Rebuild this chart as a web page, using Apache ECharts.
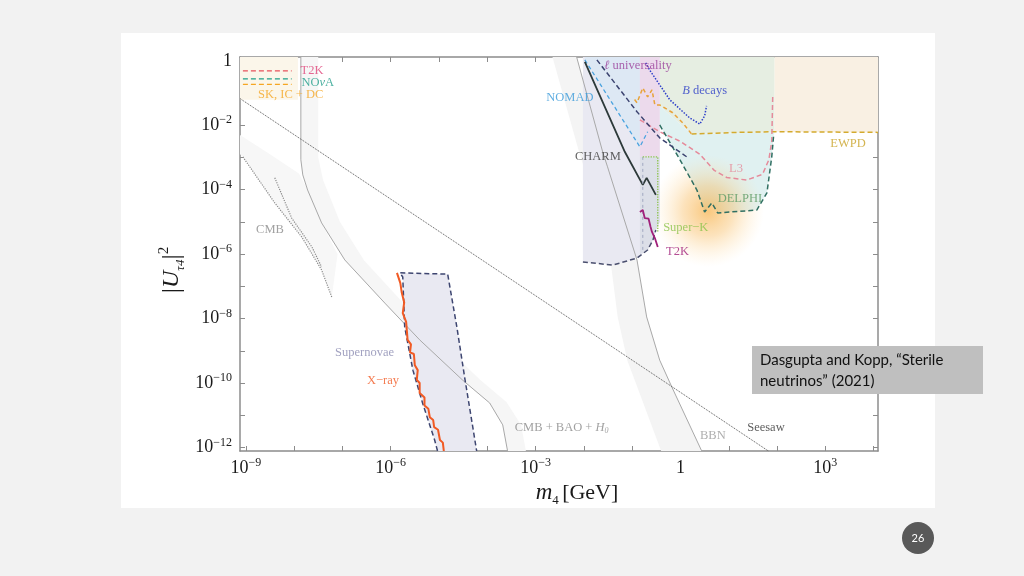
<!DOCTYPE html>
<html><head><meta charset="utf-8">
<script src="https://cdn.jsdelivr.net/npm/echarts@6/dist/echarts.min.js"></script>
<style>html,body{margin:0;padding:0;background:#f2f2f2}#c{width:1024px;height:576px}</style>
</head><body><div id="c"></div>
<script>
// ---------- axis ranges (log10 units) ----------
const xMin = -9.12, xMax = 4.09, yMin = -12.11, yMax = 0.12;
const xTickVals = [-9,-8,-7,-6,-5,-4,-3,-2,-1,0,1,2,3,4];
const xLabelVals = [-9,-6,-3,0,3];
const yTickVals = [-12,-11,-10,-9,-8,-7,-6,-5,-4,-3,-2,-1,0];
const yLabelVals = [-12,-10,-8,-6,-4,-2,0];

// ---------- shaded regions (log10 m4, log10 |U|^2) ----------
const skRegion = [[-9.12,0.12],[-7.92,0.12],[-7.92,-1.21],[-9.12,-1.21]];
const cmbRegion = [[-9.12,-2.3],[-8.5,-2.9],[-7.9,-3.5],[-7.72,-4.01],[-7.43,-5.03],[-7.1,-6.0],[-7.22,-7.33],[-7.43,-6.49],[-7.84,-5.47],[-8.40,-4.41],[-9.06,-2.98],[-9.12,-2.9]];
const cmbBaoLine = [[-7.86,0.12],[-7.86,-3.07],[-7.82,-3.54],[-7.72,-4.01],[-7.43,-5.03],[-6.95,-6.18],[-6.12,-7.52],[-5.40,-8.66],[-4.51,-9.91],[-3.95,-10.62],[-3.68,-11.30],[-3.58,-12.11]];
const cmbBaoEdge = [[-7.5,0.12],[-7.5,-3.0],[-7.4,-3.7],[-7.05,-5.0],[-6.55,-6.2],[-5.75,-7.5],[-5.05,-8.6],[-4.15,-9.9],[-3.6,-10.6],[-3.3,-11.3],[-3.2,-12.11]];
const bbnLine = [[-2.15,0.12],[-1.61,-2.83],[-1.51,-3.29],[-0.90,-6.18],[-0.70,-7.95],[-0.43,-9.29],[-0.18,-10.12],[0.44,-12.11]];
const bbnEdge = [[-2.65,0.12],[-2.1,-2.83],[-2.0,-3.3],[-1.45,-6.2],[-1.3,-7.95],[-1.1,-9.3],[-0.9,-10.1],[-0.4,-12.11]];
const lavRegion = [[-2.02,0.12],[-0.43,0.12],[-0.43,-5.0],[-0.51,-5.25],[-0.57,-5.56],[-0.68,-5.87],[-0.90,-6.12],[-1.40,-6.34],[-2.02,-6.24]];
const nomadRegion = [[-1.98,0.12],[-0.84,0.12],[-0.84,-2.67],[-1.98,0.03]];
const pinkBand = [[-0.84,0.12],[-0.43,0.12],[-0.43,-2.98],[-0.84,-2.98]];
const skBox = [[-0.84,-2.98],[-0.43,-2.98],[-0.43,-5.0],[-0.51,-5.25],[-0.57,-5.56],[-0.68,-5.87],[-0.84,-6.0]];
const greenRegion = [[-0.43,0.12],[1.95,0.12],[1.95,-2.22],[0.23,-2.27],[-0.43,-1.4]];
const cyanRegion = [[-0.43,-1.4],[0.23,-2.27],[1.95,-2.22],[1.93,-2.3],[1.89,-2.98],[1.79,-4.10],[1.58,-4.63],[0.77,-4.72],[0.65,-4.41],[0.50,-4.69],[0.34,-4.01],[-0.01,-3.07],[-0.43,-1.99]];
const ewpdRegion = [[1.95,0.12],[4.09,0.12],[4.09,-2.22],[1.95,-2.20]];
const supernovaRegion = [[-5.81,-6.58],[-4.82,-6.62],[-4.63,-8.26],[-4.47,-9.81],[-4.30,-11.37],[-4.22,-12.11],[-5.03,-12.11],[-5.09,-11.77],[-5.34,-10.62],[-5.54,-9.60],[-5.71,-8.26],[-5.75,-6.71]];
const glowCenter = [[0.57,-4.66]];

// ---------- curves ----------
const seesaw = [[-9.12,-1.17],[1.82,-12.11]];
const cmbDot1 = [[-9.06,-2.98],[-8.40,-4.41],[-7.84,-5.47],[-7.43,-6.49],[-7.22,-7.33]];
const cmbDot2 = [[-8.40,-3.63],[-8.05,-4.88],[-7.63,-5.78],[-7.43,-6.4]];
const supernovaEdge = [[-5.03,-12.11],[-5.09,-11.77],[-5.34,-10.62],[-5.54,-9.60],[-5.71,-8.26],[-5.75,-6.71],[-5.81,-6.58],[-4.82,-6.62],[-4.63,-8.26],[-4.47,-9.81],[-4.30,-11.37],[-4.22,-12.11]];
const xray = [[-5.87,-6.58],[-5.80,-6.9],[-5.77,-7.20],[-5.72,-7.5],[-5.75,-7.83],[-5.68,-8.1],[-5.65,-8.66],[-5.58,-8.8],[-5.60,-9.05],[-5.52,-9.1],[-5.50,-9.45],[-5.44,-9.6],[-5.46,-9.9],[-5.40,-10.0],[-5.40,-10.31],[-5.30,-10.45],[-5.30,-10.7],[-5.22,-10.8],[-5.19,-11.06],[-5.12,-11.15],[-5.10,-11.37],[-5.02,-11.45],[-4.98,-11.77],[-4.92,-11.85],[-4.90,-12.11]];
const charm = [[-1.98,-0.03],[-1.15,-2.83],[-0.78,-3.85],[-0.70,-3.63],[-0.51,-4.16]];
const nomad = [[-1.98,0.03],[-0.84,-2.67],[-0.68,-2.20]];
const lUniv = [[-1.73,0.03],[-0.90,-1.58],[-0.43,-2.39],[0.13,-2.98]];
const lavBottom = [[-2.02,-6.24],[-1.40,-6.34],[-0.90,-6.12],[-0.68,-5.87],[-0.57,-5.56],[-0.51,-5.25]];
const bDecays = [[-0.72,-0.06],[-0.64,-0.28],[-0.22,-1.21],[0.19,-1.77],[0.40,-1.96],[0.50,-1.71],[0.54,-1.40]];
const ewpd = [[0.23,-2.27],[1.2,-2.22],[1.95,-2.20],[4.09,-2.22]];
const yellowWiggle = [[-0.95,-1.20],[-0.90,-1.30],[-0.78,-0.84],[-0.68,-1.12],[-0.59,-0.90],[-0.53,-1.37],[-0.43,-1.37],[-0.16,-1.61],[0.05,-1.93],[0.23,-2.27]];
const l3 = [[-0.84,-1.83],[-0.43,-2.2],[0.0,-2.5],[0.40,-2.9],[0.70,-3.4],[0.96,-3.62],[1.37,-3.70],[1.70,-3.52],[1.83,-3.07],[1.89,-2.5],[1.91,-1.12]];
const delphi = [[-0.43,-1.99],[-0.01,-3.07],[0.34,-4.01],[0.50,-4.69],[0.65,-4.41],[0.77,-4.72],[1.58,-4.63],[1.79,-4.10],[1.89,-2.98],[1.93,-2.3]];
const t2kLow = [[-0.84,-4.69],[-0.78,-4.63],[-0.74,-4.88],[-0.70,-4.94],[-0.66,-4.9],[-0.62,-5.15],[-0.59,-5.31],[-0.53,-5.5],[-0.47,-5.78]];
const superK = [[-0.78,-2.98],[-0.47,-2.98],[-0.47,-5.3]];
const skEdge = [[-0.78,-2.98],[-0.78,-5.9]];
const legT2K = [[-9.06,-0.31],[-8.05,-0.31]];
const legNova = [[-9.06,-0.56],[-8.05,-0.56]];
const legSK = [[-9.06,-0.73],[-8.05,-0.73]];

// ---------- in-plot labels ----------
const labelText = ['T2K','NO{it|ν}A','SK, IC + DC','CMB','{it|ℓ} universality','{it|B} decays','NOMAD','CHARM','L3','DELPHI','Super−K','T2K','EWPD','Supernovae','X−ray','CMB + BAO + {it|H}{sub|0}','BBN','Seesaw'];
const labelX = [-7.63,-7.51,-8.07,-8.50,-0.88,0.50,-2.29,-1.71,1.15,1.23,0.11,-0.06,3.47,-6.54,-6.16,-2.46,0.67,1.77];
const labelY = [-0.31,-0.68,-1.06,-5.25,-0.16,-0.93,-1.15,-2.98,-3.35,-4.29,-5.19,-5.93,-2.58,-9.07,-9.94,-11.40,-11.65,-11.40];
const labelColor = ['#e0457b','#1f9e89','#f5a623','#8a8a8a','#9a3d9a','#2a3cc7','#3a9ad9','#3a3a3a','#e58a9a','#5a9a63','#8bc34a','#a0207a','#c9a227','#8a8ab0','#f15a24','#8a8a8a','#9a9a9a','#333333'];

const SERIF = '"Liberation Serif","DejaVu Serif",serif';

function poly(points, fill, z) {
  return {type:'custom', coordinateSystem:'cartesian2d', silent:true, z:z, clip:true,
    data: points,
    renderItem: function(params, api){
      if (params.dataIndex !== 0) return {type:'group', children:[]};
      return {type:'polygon', shape:{points: points.map(p => api.coord(p))}, style:{fill: fill}};
    }};
}
function line(data, color, width, type, z) {
  return {type:'line', data:data, showSymbol:false, symbol:'none', silent:true, z:z||5, clip:true,
    lineStyle:{color:color, width:width, type:type||'solid'}};
}
function sup(n){ return n < 0 ? '−' + Math.abs(n) : String(n); }
function tickLabel(v){ return v === 0 ? '{b|1}' : '{b|10}{s|' + sup(v) + '}'; }
const tickRich = {b:{fontFamily:SERIF, fontSize:18, color:'#1a1a1a', lineHeight:22},
                  s:{fontFamily:SERIF, fontSize:12, color:'#1a1a1a', lineHeight:12, verticalAlign:'top'}};
const frame = {show:true, onZero:false, lineStyle:{color:'#8c8c8c', width:1.5}};

const chart = echarts.init(document.getElementById('c'), null, {renderer:'canvas'});
const labelData = labelText.map((t,i) => ({
  value:[labelX[i], labelY[i]],
  label:{show:true, position:'inside', formatter:t, color:labelColor[i], fontFamily:SERIF, fontSize:12.5,
    rich:{it:{fontStyle:'italic', color:labelColor[i], fontFamily:SERIF, fontSize:12.5},
          sub:{fontStyle:'italic', color:labelColor[i], fontFamily:SERIF, fontSize:8, verticalAlign:'bottom', lineHeight:12}}}
}));

chart.setOption({
  animation:false,
  backgroundColor:'#f2f2f2',
  grid:{left:240, right:146, top:57, bottom:125, containLabel:false},
  xAxis:[
    {type:'value', min:xMin, max:xMax, position:'bottom', axisLine:frame, splitLine:{show:false},
     axisTick:{inside:true, length:5, customValues:xTickVals, lineStyle:{color:'#8c8c8c'}},
     axisLabel:{customValues:xLabelVals, formatter:tickLabel, rich:tickRich, margin:6}},
    {type:'value', min:xMin, max:xMax, position:'top', axisLine:frame, splitLine:{show:false},
     axisTick:{inside:true, length:5, customValues:xTickVals, lineStyle:{color:'#8c8c8c'}},
     axisLabel:{show:false}}
  ],
  yAxis:[
    {type:'value', min:yMin, max:yMax, position:'left', axisLine:frame, splitLine:{show:false},
     axisTick:{inside:true, length:5, customValues:yTickVals, lineStyle:{color:'#8c8c8c'}},
     axisLabel:{customValues:yLabelVals, formatter:tickLabel, rich:tickRich, margin:8}},
    {type:'value', min:yMin, max:yMax, position:'right', axisLine:frame, splitLine:{show:false},
     axisTick:{inside:true, length:5, customValues:yTickVals, lineStyle:{color:'#8c8c8c'}},
     axisLabel:{show:false}}
  ],
  graphic:[
    {type:'rect', z:-100, shape:{x:121, y:33, width:814, height:475}, style:{fill:'#ffffff'}},
    {type:'text', z:50, x:172, y:270, rotation:Math.PI/2, style:{
      text:'{a||}{u|U}{sb|τ4}{a||}{sp|2}', align:'center', verticalAlign:'middle',
      rich:{a:{fontFamily:SERIF, fontSize:26, fill:'#1a1a1a', lineHeight:30},
            u:{fontFamily:SERIF, fontSize:24, fontStyle:'italic', fill:'#1a1a1a', lineHeight:30},
            sb:{fontFamily:SERIF, fontSize:13, fontStyle:'italic', fill:'#1a1a1a', lineHeight:13, verticalAlign:'bottom'},
            sp:{fontFamily:SERIF, fontSize:15, fill:'#1a1a1a', lineHeight:15, verticalAlign:'top'}}}},
    {type:'text', z:50, x:577, y:493, style:{
      text:'{i|m}{sb|4} {n|[GeV]}', align:'center', verticalAlign:'middle',
      rich:{i:{fontFamily:SERIF, fontSize:23, fontStyle:'italic', fill:'#1a1a1a', lineHeight:28},
            sb:{fontFamily:SERIF, fontSize:13, fill:'#1a1a1a', lineHeight:12, verticalAlign:'bottom'},
            n:{fontFamily:SERIF, fontSize:22, fill:'#1a1a1a', lineHeight:28}}}},
    {type:'rect', z:100, shape:{x:752, y:346, width:231, height:48}, style:{fill:'#bfbfbf'}},
    {type:'text', z:101, x:760, y:350, style:{text:'Dasgupta and Kopp, “Sterile\nneutrinos” (2021)', fontFamily:'Lato', fontSize:15, lineHeight:21, fill:'#111111'}},
    {type:'circle', z:100, shape:{cx:918, cy:538, r:16}, style:{fill:'#595959'}},
    {type:'text', z:101, x:918, y:538, style:{text:'26', align:'center', verticalAlign:'middle', fontFamily:'Lato', fontSize:11, fill:'#ffffff'}}
  ],
  series:[
    poly(skRegion, '#fbf6ea', 1),
    poly(cmbRegion, '#f7f7f7', 1),
    poly(cmbBaoLine.concat(cmbBaoEdge.slice().reverse()), '#f6f6f6', 1),
    poly(bbnLine.concat(bbnEdge.slice().reverse()), '#f4f4f4', 1),
    poly(greenRegion, '#e6eee2', 1),
    poly(cyanRegion, '#e0f1f1', 1),
    poly(ewpdRegion, '#f9f0e3', 1),
    {type:'scatter', data:glowCenter, symbolSize:112, silent:true, z:2,
     itemStyle:{color:{type:'radial', x:0.5, y:0.5, r:0.5, colorStops:[
       {offset:0, color:'rgba(246,168,52,0.8)'},{offset:0.45, color:'rgba(248,185,90,0.5)'},{offset:1, color:'rgba(255,225,170,0)'}]}}},
    poly(lavRegion, '#e9e9f2', 3),
    poly(nomadRegion, '#dde8f4', 3),
    poly(pinkBand, '#ecdaec', 3),
    poly(skBox, '#dcdfe8', 3),
    poly(supernovaRegion, '#e9e9f2', 3),
    line(cmbBaoLine, '#a8a8a8', 1),
    line(bbnLine, '#a8a8a8', 1),
    line(seesaw, '#555555', 1, 'dotted'),
    line(cmbDot1, '#8a8a8a', 1.2, 'dotted'),
    line(cmbDot2, '#8a8a8a', 1.2, 'dotted'),
    line(supernovaEdge, '#3d4570', 1.5, [5,3]),
    line(xray, '#f15a24', 2),
    line(ewpd, '#d4aa2e', 1.5, [5,3]),
    line(yellowWiggle, '#e8a33a', 1.5, [4,3]),
    line(l3, '#e58a9a', 1.5, [5,3]),
    line(delphi, '#2f6f62', 1.5, [5,3]),
    line(nomad, '#4aa3df', 1.3, [4,3]),
    line(lUniv, '#3b4370', 1.5, [5,3]),
    line(bDecays, '#2c3ec9', 1.5, 'dotted'),
    line(charm, '#2d3a3a', 1.8),
    line(lavBottom, '#4a4f6e', 1.5, [5,3]),
    line(skEdge, '#a0a8c0', 1, [3,3]),
    line(superK, '#8bc34a', 1.3, 'dotted'),
    line(t2kLow, '#a0207a', 1.8),
    line(legT2K, '#e8505b', 1.3, [5,3]),
    line(legNova, '#1f9e89', 1.3, [5,3]),
    line(legSK, '#f5a623', 1.3, [5,3]),
    {type:'scatter', data:labelData, symbolSize:1, silent:true, z:10, itemStyle:{color:'rgba(0,0,0,0)'}}
  ]
});
</script></body></html>
